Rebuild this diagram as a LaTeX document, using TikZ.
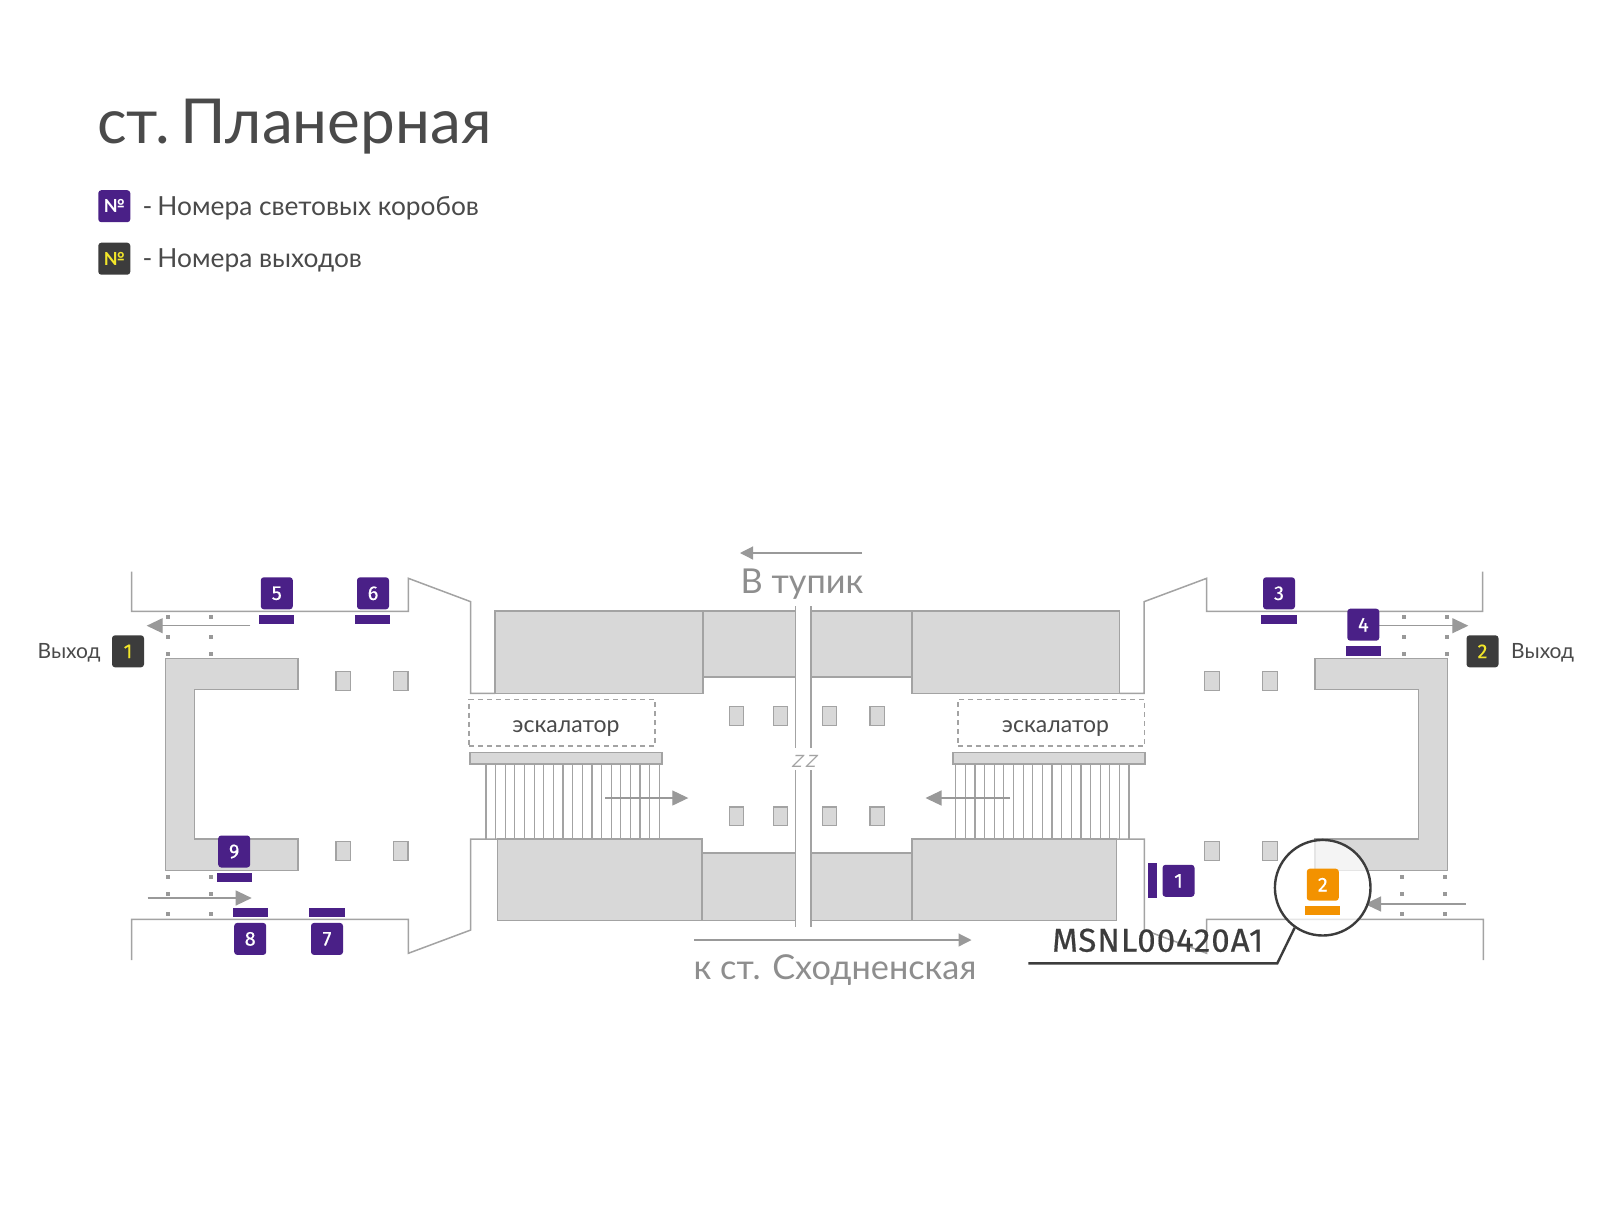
\documentclass[tikz,border=0pt]{standalone}
\usepackage{fontspec}
\setmainfont{Lato}
\newfontfamily\signfont[FakeBold=0.4]{Fira Sans}
\newfontfamily\codefont[FakeBold=0.5,LetterSpace=3]{Fira Sans}
\newfontfamily\slantfont[FakeSlant=0.3]{Lato}
\usetikzlibrary{arrows.meta}
\definecolor{plum}{HTML}{4A2087}
\definecolor{coal}{HTML}{3C3C3C}
\definecolor{lemon}{HTML}{F2E62A}
\definecolor{amber}{HTML}{F39200}
\definecolor{blockfill}{HTML}{D8D8D8}
\definecolor{wallline}{HTML}{A3A3A3}
\definecolor{inktext}{HTML}{4A4A4A}
\definecolor{palehead}{HTML}{999999}
\definecolor{paletext}{HTML}{8E8E8E}
\tikzset{
  wall/.style={draw=wallline,line width=1.5pt,line join=miter},
  block/.style={draw=wallline,fill=blockfill,line width=1.5pt},
  pillar/.style={draw=wallline,fill=blockfill,line width=1.2pt},
  thin line/.style={draw=wallline,line width=1.2pt},
  flow/.style={draw=palehead,line width=1.2pt,-{Triangle[length=16pt,width=15pt,fill=palehead]}},
  bigflow/.style={draw=palehead,line width=1.2pt,-{Triangle[length=13pt,width=13pt,fill=palehead]}},
  signbox/.style={fill=plum,text=white,rounded corners=3pt,minimum width=32pt,minimum height=32pt,inner sep=0pt,font=\signfont\fontsize{20}{22}\selectfont},
  exitbox/.style={signbox,fill=coal,text=lemon},
  orangebox/.style={signbox,fill=amber},
  signbar/.style={fill=plum},
  dot/.style={fill=palehead,minimum size=4pt,inner sep=0pt},
  label/.style={inner sep=0pt,text=inktext,anchor=base west},
}
\newcommand{\pilr}[2]{\draw[pillar] (#1,#2) rectangle ++(14.3,18.6);}
\begin{document}
\begin{tikzpicture}[x=1pt,y=-1pt]
\useasboundingbox (0,0) rectangle (1600,1216);
\fill[white] (0,0) rectangle (1600,1216);
% header
\node[label,font=\fontsize{62}{70}\selectfont] (title) at (97,143.3) {ст.\hspace{10.5pt}Планерная};
\node[signbox,minimum width=32pt,font=\fontsize{18}{20}\selectfont\bfseries] (legA) at (114.3,206.2) {№};
\node[exitbox,font=\fontsize{18}{20}\selectfont\bfseries] (legB) at (114.3,258.7) {№};
\node[label,font=\fontsize{26.3}{30}\selectfont] (legAt) at (142.5,215) {-\hspace{5pt}Номера световых коробов};
\node[label,font=\fontsize{26.3}{30}\selectfont] (legBt) at (142.5,267.7) {-\hspace{5pt}Номера выходов};
% walls
\draw[wall] (131.7,571.7) -- (131.7,611.3) -- (408.3,611.3) -- (408.3,578.3) -- (470.7,601.7) -- (470.7,693.3) -- (495,693.3);
\draw[wall] (497.7,839) -- (470.7,839) -- (470.7,930) -- (408.3,953.3) -- (408.3,919.3) -- (131.7,919.3) -- (131.7,960);
\draw[wall] (1482.7,571.7) -- (1482.7,611.3) -- (1206.7,611.3) -- (1206.7,578.3) -- (1144,601.7) -- (1144,693.3) -- (1119.7,693.3);
\draw[wall] (1116.7,839) -- (1144.3,839) -- (1144.3,930) -- (1206.7,953.3) -- (1206.7,919.3) -- (1483.3,919.3) -- (1483.3,960);
% central blocks
\draw[block] (703,611) rectangle (795.3,677);
\draw[block] (811.5,611) rectangle (912,677);
\draw[block] (495,611) rectangle (703,693.3);
\draw[block] (912,611) rectangle (1119.7,693.3);
\draw[block] (702,853) rectangle (795.3,920.3);
\draw[block] (811.5,853) rectangle (912,920.3);
\draw[block] (497.7,839) rectangle (702,920.3);
\draw[block] (912,839) rectangle (1116.7,920.3);
% tracks
\draw[thin line] (795.3,606) -- (795.3,748) (795.3,770) -- (795.3,927.3);
\draw[thin line] (811,606) -- (811,748) (811,770) -- (811,927.3);
\node[inner sep=0pt,text=wallline,font=\slantfont\fontsize{17}{20}\selectfont] (zz) at (803.3,761) {Z\hspace{3.5pt}Z};
% C shapes
\draw[block] (165.3,658.7) -- (298,658.7) -- (298,689.7) -- (194.3,689.7) -- (194.3,839) -- (298,839) -- (298,870.3) -- (165.3,870.3) -- cycle;
\draw[block] (1447.7,658.7) -- (1315,658.7) -- (1315,689.7) -- (1418.3,689.7) -- (1418.3,839) -- (1315,839) -- (1315,870.3) -- (1447.7,870.3) -- cycle;
% pillars
\foreach \x in {336,393.7,1204.8,1262.8}{\pilr{\x}{671.7}\pilr{\x}{841.5}}
\foreach \x in {729.3,773.3,822.3,870}{\pilr{\x}{706.5}\pilr{\x}{807}}
% escalators
\node[draw=wallline,dashed,line width=1.2pt,dash pattern=on 5pt off 4pt,minimum width=186pt,minimum height=46.7pt,inner sep=0pt] (escL) at (562,722.7) {};
\node[draw=wallline,dashed,line width=1.2pt,dash pattern=on 5pt off 4pt,minimum width=186.7pt,minimum height=46.7pt,inner sep=0pt] (escR) at (1051.3,722.7) {};
\node[inner sep=0pt,text=inktext,anchor=base,font=\fontsize{23}{26}\selectfont] (escLt) at (566,732.5) {эскалатор};
\node[inner sep=0pt,text=inktext,anchor=base,font=\fontsize{23}{26}\selectfont] (escRt) at (1055.5,732.5) {эскалатор};
\foreach \i in {0,...,18}{
  \draw[thin line] ({486+9.63*\i},764) -- ({486+9.63*\i},839);
  \draw[thin line] ({955.7+9.63*\i},764) -- ({955.7+9.63*\i},839);
}
\draw[block] (470,752.7) rectangle (662,764);
\draw[block] (953,752.7) rectangle (1145,764);
% dots
\foreach \x in {168,210.7}{\foreach \y in {617.3,637.3,654.3,876.7,893.7,913.7}{\node[dot] at (\x,\y) {};}}
\foreach \x in {1404,1446.7}{\foreach \y in {617.3,637.3,654.3}{\node[dot] at (\x,\y) {};}}
\foreach \x in {1402.3,1445}{\foreach \y in {876.7,893.7,914}{\node[dot] at (\x,\y) {};}}
% flow arrows
\coordinate (a1s) at (250.3,625.7); \coordinate (a1e) at (146.7,625.7);
\coordinate (a2s) at (147.7,898);   \coordinate (a2e) at (251.7,898);
\coordinate (a3s) at (1379,625.7);  \coordinate (a3e) at (1468.3,625.7);
\coordinate (a4s) at (1465.7,904);  \coordinate (a4e) at (1365,904);
\coordinate (a5s) at (605,798);     \coordinate (a5e) at (688.3,798);
\coordinate (a6s) at (1010,798);    \coordinate (a6e) at (925.5,798);
\coordinate (a7s) at (862,553);     \coordinate (a7e) at (740,553);
\coordinate (a8s) at (694,940);     \coordinate (a8e) at (971.5,940);
\draw[flow] (a1s) -- (a1e);
\draw[flow] (a2s) -- (a2e);
\draw[flow] (a3s) -- (a3e);
\draw[flow] (a4s) -- (a4e);
\draw[flow] (a5s) -- (a5e);
\draw[flow] (a6s) -- (a6e);
\draw[bigflow] (a7s) -- (a7e);
\draw[bigflow] (a8s) -- (a8e);
\node[inner sep=0pt,anchor=base,text=paletext,font=\fontsize{34.3}{36}\selectfont] (deadend) at (802,593) {В тупик};
\node[inner sep=0pt,anchor=base,text=paletext,font=\fontsize{34.3}{36}\selectfont] (nextst) at (835,979) {к ст. Сходненская};
% light boxes
\node[signbox] (s5) at (276.8,593.3) {5};
\node[signbox] (s6) at (373,593.3) {6};
\node[signbox] (s9) at (234.2,851.5) {9};
\node[signbox] (s8) at (250.2,938.9) {8};
\node[signbox] (s7) at (327,938.9) {7};
\node[signbox] (s3) at (1279,593.3) {3};
\node[signbox] (s4) at (1363.3,624.7) {4};
\node[signbox] (s1) at (1178.5,880.8) {1};
\fill[signbar] (259.3,615) rectangle (294.3,624);
\fill[signbar] (355.3,615) rectangle (390.3,624);
\fill[signbar] (216.7,872.7) rectangle (252,882.3);
\fill[signbar] (232.7,907.7) rectangle (267.7,917.3);
\fill[signbar] (309.3,907.7) rectangle (344.7,917.3);
\fill[signbar] (1261.3,615) rectangle (1296.7,624);
\fill[signbar] (1345.7,646) rectangle (1381,655.7);
\fill[signbar] (1147.7,863) rectangle (1157,898.3);
% exits
\node[exitbox] (e1) at (128,651.3) {1};
\node[exitbox] (e2) at (1482.5,651.3) {2};
\node[label,font=\fontsize{21}{26}\selectfont] (e1t) at (37.5,658.3) {Выход};
\node[label,font=\fontsize{21}{26}\selectfont] (e2t) at (1511,658.3) {Выход};
% callout
\node[circle,draw=coal,line width=2.4pt,fill=white,fill opacity=0.72,draw opacity=1,minimum size=95.6pt,inner sep=0pt] (lens) at (1322.7,887.7) {};
\node[orangebox] (o2) at (1322.8,884.7) {2};
\fill[amber] (1305.3,906.3) rectangle (1340.3,915.3);
\coordinate (ldA) at (1277.3,963.3);
\coordinate (ldB) at (1028.3,963.3);
\draw[draw=coal,line width=2.4pt] (lens.235) -- (ldA) -- (ldB);
\node[label,text=coal,font=\codefont\fontsize{33}{36}\selectfont] (code) at (1052,951.7) {MSNL00420A1};
\end{tikzpicture}
\end{document}
